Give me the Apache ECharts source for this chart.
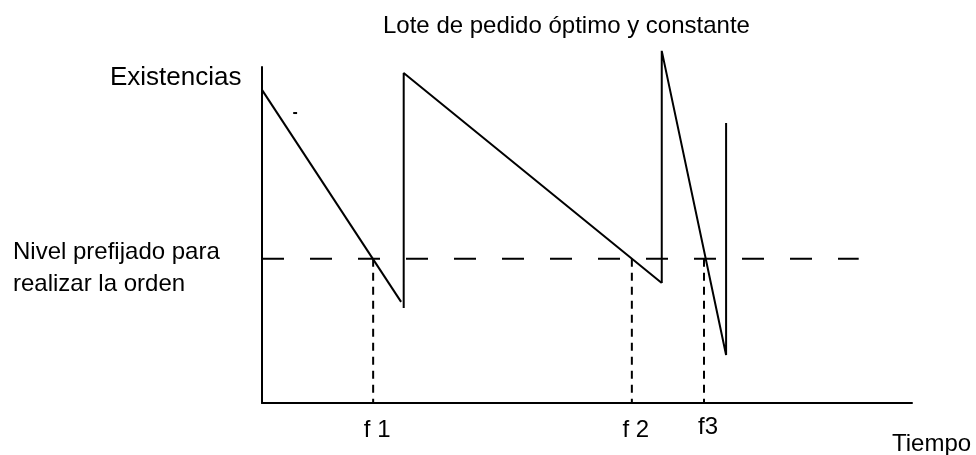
<!DOCTYPE html>
<html>
<head>
<meta charset="utf-8">
<script src="https://cdn.jsdelivr.net/npm/echarts@6/dist/echarts.min.js"></script>
<style>
  html, body { margin: 0; padding: 0; background: #fff; }
  #chart { width: 976px; height: 455px; }
</style>
</head>
<body>
<div id="chart"></div>
<script>
// tiempo (0..100 a lo ancho del eje) / existencias (0..100 a lo alto del eje)
const cycle1 = [[0, 93.2], [21.4, 30.1]]
const cycle2 = [[21.8, 28.3], [21.8, 98.2], [61.5, 35.7]]
const cycle3 = [[61.5, 35.7], [61.5, 104.8], [71.4, 14.3], [71.4, 83.3]]
const stray = [[4.8, 86.3], [5.4, 86.3]]
const reorderLevel = 42.9
const reorderEnd = 91.8
const orderTimes = [17.1, 56.9, 68.0]
const orderLabels = ['f 1', 'f 2', 'f3']

const font = '"Liberation Sans", Arial, sans-serif'
const solid = { color: '#000', width: 2, type: 'solid' }

const chart = echarts.init(document.getElementById('chart'))

const series = []
;[cycle1, cycle2, cycle3, stray].forEach(d => series.push({
  type: 'line', data: d, symbol: 'none', clip: false, silent: true,
  lineStyle: solid
}))
series.push({
  type: 'line', data: [[0, reorderLevel], [reorderEnd, reorderLevel]],
  symbol: 'none', clip: false, silent: true,
  lineStyle: { color: '#000', width: 2, type: [22, 26] }
})
orderTimes.forEach(t => series.push({
  type: 'line', data: [[t, reorderLevel], [t, 0]],
  symbol: 'none', clip: false, silent: true,
  lineStyle: { color: '#000', width: 2, type: [8, 6] }
}))

const txt = (x, y, text, size, align) => ({
  type: 'text', x, y, silent: true,
  style: { text, fill: '#000', font: size + 'px ' + font, align: align || 'left', verticalAlign: 'middle' }
})

const graphic = [
  txt(383, 26, 'Lote de pedido óptimo y constante', 24),
  txt(110, 78, 'Existencias', 26),
  txt(13, 252, 'Nivel prefijado para', 24),
  txt(13, 284, 'realizar la orden', 24),
  txt(892, 444, 'Tiempo', 24)
]
const labelY = [430, 430, 427]
orderTimes.forEach((t, i) => {
  graphic.push(Object.assign(txt(0, labelY[i], orderLabels[i], 24, 'center'), { x: 262 + t * 6.5 + 4 }))
})

chart.setOption({
  animation: false,
  grid: { left: 262, right: 64, top: 67, bottom: 52 },
  xAxis: {
    type: 'value', min: 0, max: 100,
    axisLine: { show: true, lineStyle: { color: '#000', width: 2 } },
    axisTick: { show: false }, axisLabel: { show: false }, splitLine: { show: false }
  },
  yAxis: {
    type: 'value', min: 0, max: 100,
    axisLine: { show: true, lineStyle: { color: '#000', width: 2 } },
    axisTick: { show: false }, axisLabel: { show: false }, splitLine: { show: false }
  },
  graphic,
  series
})
</script>
</body>
</html>
